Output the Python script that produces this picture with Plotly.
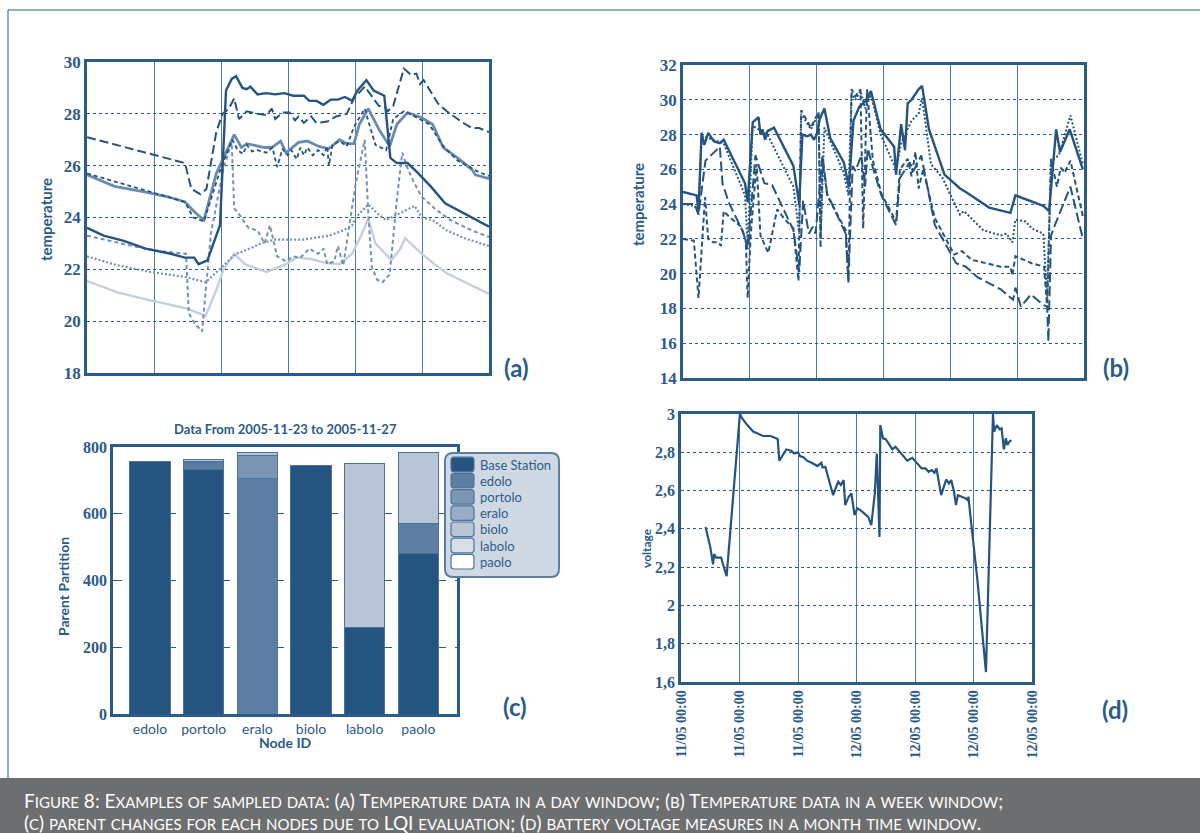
import plotly.graph_objects as go

W, H = 1200, 833
def px(x): return x / W
def py(y): return 1 - y / H

DARK = '#24547f'
AX = '#2b5b89'
MED = '#6a8bb1'
MED2 = '#7492b6'
LIGHT = '#c5d0dd'

# ---------------- (a) temperature, day window (hours) ----------------
a1_h = [0,1.0,2.2,3.5,5.0,5.85,6.4,6.66,7.19,7.94,8.30,8.64,8.90,9.28,9.54,9.75,10.18,10.71,11.24,11.78,12.31,12.95,13.27,13.70,14.12,14.55,14.98,15.40,15.83,16.15,16.68,17.11,17.75,18.11,18.50,19.14,19.78,20.52,21.38,22.12,24.0]
a1_t = [23.6,23.3,23.1,22.8,22.6,22.45,22.45,22.2,22.35,23.7,28.9,29.35,29.45,29.0,28.95,29.05,28.75,28.8,28.75,28.8,28.7,28.7,28.5,28.5,28.35,28.55,28.55,28.65,28.5,28.9,29.3,28.9,28.7,26.3,26.1,26.1,25.7,25.2,24.55,24.3,23.65]

a2_h = [0,5.85,6.23,6.76,7.13,7.72,8.09,8.47,8.79,9.07,9.54,10.18,10.71,11.03,11.24,11.67,12.10,12.42,12.63,12.95,13.38,13.70,14.34,14.87,15.51,15.94,16.58,17.43,17.75,17.96,18.28,18.92,19.35,19.67,19.88,20.10,20.95,21.48,22.34,22.98,23.40,24.0]
a2_t = [27.1,26.1,25.1,24.9,25.1,27.3,28.0,28.2,28.6,27.8,28.1,28.0,27.95,28.2,27.8,28.05,28.05,27.75,27.9,27.65,27.9,27.65,27.7,27.9,28.0,28.6,29.05,28.3,28.3,28.1,28.3,29.75,29.5,29.55,29.15,29.3,28.4,28.1,27.7,27.45,27.45,27.3]

a3_h = [0,2.71,5.85,6.34,6.98,7.30,8.04,8.68,9.00,9.32,9.54,9.86,10.18,10.71,11.07,11.35,11.67,11.99,12.20,12.52,12.74,12.95,13.16,13.48,13.80,14.12,14.34,14.44,14.66,15.08,15.51,15.94,16.58,17.22,17.86,18.28,18.92,19.56,20.42,21.27,22.12,22.98,23.40,24.0]
a3_t = [25.7,25.2,24.6,24.0,23.85,24.5,26.0,27.0,26.6,26.45,26.8,26.55,26.6,26.5,26.7,25.95,26.65,26.4,26.6,26.25,26.7,26.4,26.7,26.4,26.6,26.4,26.75,26.0,26.8,26.95,26.75,27.5,28.2,26.8,26.6,27.8,28.1,27.9,27.6,26.75,26.2,25.9,25.75,25.6]

a4_h = [0,1.64,3.35,4.84,5.85,6.44,6.98,7.72,8.15,8.79,9.22,9.54,10.60,11.03,11.56,11.88,12.63,13.16,13.80,14.44,15.08,15.51,15.94,16.26,16.79,17.43,18.07,18.50,19.14,19.99,20.63,21.27,22.12,22.98,23.19,24.0]
a4_t = [25.65,25.2,25.0,24.8,24.6,24.2,23.9,25.7,26.3,27.2,26.7,26.85,26.7,26.7,26.95,26.5,26.9,26.95,26.75,26.65,27.0,26.85,26.85,27.6,28.2,27.4,26.75,27.6,28.05,27.85,27.6,26.7,26.3,25.85,25.65,25.5]

a5_h = [0,2.71,4.42,5.91,6.08,6.44,6.87,7.40,8.15,8.64,8.79,9.11,9.64,10.18,10.60,10.92,11.35,11.88,12.31,12.74,13.27,13.80,14.12,14.34,14.76,14.98,15.30,15.51,16.04,16.58,16.79,17.00,17.32,17.64,18.07,18.50,18.82,19.14,19.56,19.99,20.84,21.70,22.98,24.0]
a5_t = [23.3,22.9,22.7,22.6,20.3,19.9,19.6,23.4,25.9,26.9,24.35,24.1,23.6,23.5,23.0,23.7,22.5,22.3,22.5,22.45,22.8,22.6,22.8,22.2,22.3,22.9,22.15,23.0,25.3,27.0,24.2,22.1,21.6,21.5,21.8,24.7,26.5,25.9,25.3,24.8,24.3,23.9,23.5,23.25]

a6_h = [0,1.86,3.78,5.91,7.08,8.04,8.90,9.54,10.39,11.24,12.95,14.44,15.30,15.83,16.04,16.79,17.43,17.86,18.50,19.14,19.56,19.99,20.63,21.48,22.55,24.0]
a6_t = [22.5,22.15,21.9,21.7,21.5,22.1,22.6,22.75,23.0,23.15,23.15,23.3,23.5,23.7,24.0,24.5,24.1,23.9,24.1,24.3,24.45,24.0,23.9,23.5,23.2,22.9]

a7_h = [0,1.86,3.78,5.91,7.08,7.72,8.15,8.79,9.43,10.71,11.88,12.52,13.38,14.23,15.08,15.83,16.36,16.79,17.22,17.64,18.18,18.71,18.99,19.99,20.74,21.48,22.55,24.0]
a7_t = [21.55,21.1,20.8,20.5,20.2,21.2,22.0,22.6,22.2,21.9,22.2,22.45,22.4,22.25,22.2,22.6,23.3,23.95,23.0,22.7,22.35,22.8,23.2,22.6,22.2,21.85,21.5,21.05]

# ---------------- (b) temperature, week window (days) ----------------
b1_d = [0,0.203,0.232,0.278,0.319,0.377,0.464,0.551,0.609,0.928,0.968,1.043,1.130,1.159,1.188,1.229,1.264,1.362,1.652,1.739,1.786,1.855,1.913,1.959,2.0,2.046,2.116,2.203,2.406,2.481,2.551,2.638,2.725,2.812,2.957,3.159,3.188,3.264,3.322,3.362,3.420,3.525,3.577,3.681,3.913,4.145,4.232,4.580,4.899,4.974,5.391,5.478,5.583,5.641,5.786,5.983]
b1_t = [24.7,24.5,23.6,28.1,27.4,28.1,27.6,27.5,27.7,25.2,24.1,28.7,29.0,28.0,28.3,27.7,28.2,28.4,26.2,24.0,28.0,27.9,28.0,27.7,28.0,28.9,29.5,27.8,26.4,25.0,28.8,29.6,29.9,30.5,28.3,27.3,25.7,28.6,27.1,29.8,30.0,30.6,30.8,28.3,25.7,24.9,24.7,23.8,23.5,24.5,23.9,23.6,28.3,27.0,28.3,26.0]

b2_d = [0,0.174,0.232,0.336,0.551,0.591,0.684,0.899,0.968,1.084,1.217,1.333,1.652,1.739,1.797,1.884,1.942,1.983,2.087,2.157,2.435,2.475,2.539,2.580,2.667,2.725,2.765,2.841,2.968,3.188,3.246,3.391,3.449,3.565,3.768,4.087,4.232,4.406,4.754,4.939,4.974,5.055,5.206,5.391,5.449,5.467,5.507,5.565,5.797,5.983]
b2_t = [24.0,24.0,23.4,26.5,27.3,25.2,24.1,22.4,21.4,26.8,25.2,25.1,22.5,20.1,24.2,22.3,22.7,22.3,26.8,24.6,22.3,19.6,26.2,25.9,26.8,25.0,27.2,26.1,24.5,22.8,25.5,26.4,25.9,26.8,22.8,20.6,20.4,19.8,19.1,18.5,19.2,18.1,18.8,18.2,18.1,16.1,22.2,22.8,25.0,22.0]

b3_d = [0,0.162,0.232,0.330,0.377,0.452,0.522,0.568,0.609,0.684,0.870,0.939,0.968,1.014,1.101,1.159,1.276,1.409,1.507,1.652,1.728,1.768,1.855,1.913,2.029,2.058,2.087,2.157,2.435,2.475,2.522,2.580,2.655,2.696,2.754,2.841,2.968,3.188,3.246,3.362,3.420,3.478,3.525,3.594,3.768,4.058,4.174,4.319,4.754,4.899,4.928,4.974,5.217,5.403,5.449,5.507,5.594,5.652,5.710,5.797,5.983]
b3_t = [22.0,21.9,18.6,24.4,22.0,21.8,21.8,21.6,23.6,23.3,22.7,21.9,18.6,22.3,26.3,22.2,21.2,23.7,23.2,22.6,19.6,29.4,28.8,28.4,29.3,21.5,26.6,24.5,22.5,19.5,30.6,30.2,30.6,22.6,30.6,26.5,24.6,23.0,26.0,26.6,25.6,27.0,24.9,26.0,23.2,21.1,21.3,20.8,20.4,20.4,19.9,21.0,20.6,20.4,18.0,26.6,25.0,26.1,25.8,26.5,23.3]

b4_d = [0,0.174,0.232,0.278,0.377,0.609,0.928,0.968,1.043,1.264,1.652,1.739,1.768,1.913,2.029,2.058,2.116,2.406,2.475,2.522,2.580,2.655,2.725,2.812,2.957,3.188,3.264,3.420,3.525,3.577,3.710,3.884,4.029,4.145,4.203,4.493,4.754,4.841,4.928,4.974,5.130,5.217,5.391,5.449,5.507,5.623,5.797,5.983]
b4_t = [24.0,23.9,23.5,27.9,27.8,27.5,24.5,21.6,28.5,28.0,25.0,22.3,29.2,28.3,29.2,22.0,28.4,25.8,24.5,30.4,30.0,30.5,29.5,30.3,28.0,26.0,27.5,28.8,29.2,30.1,26.3,25.5,24.3,23.4,23.6,22.5,22.2,22.3,21.8,23.1,23.0,22.6,22.3,18.6,26.5,26.8,29.1,26.3]

# ---------------- (c) parent partition ----------------
nodes = ['edolo', 'portolo', 'eralo', 'biolo', 'labolo', 'paolo']
parents = ['Base Station', 'edolo', 'portolo', 'eralo', 'biolo', 'labolo', 'paolo']
parent_counts = {
    'Base Station': [757, 732, 0, 745, 258, 480],
    'edolo':        [0, 23, 705, 0, 0, 90],
    'portolo':      [0, 0, 70, 0, 0, 0],
    'eralo':        [0, 3, 0, 0, 0, 0],
    'biolo':        [0, 5, 8, 0, 492, 215],
    'labolo':       [0, 0, 0, 0, 0, 0],
    'paolo':        [0, 0, 0, 0, 0, 0],
}
bar_colors = ['#24547f', '#5c7ea3', '#7b95b4', '#98adc7', '#b7c5d6', '#d7dee7', '#ffffff']

# ---------------- (d) battery voltage, month window ----------------
d_t = [0.42,0.50,0.547,0.567,0.60,0.687,0.713,0.78,1.007,1.047,1.133,1.233,1.30,1.40,1.533,1.60,1.653,1.68,1.80,1.887,1.933,2.0,2.033,2.10,2.153,2.233,2.333,2.40,2.42,2.467,2.533,2.60,2.687,2.733,2.78,2.807,2.867,2.913,2.967,3.013,3.067,3.20,3.253,3.313,3.347,3.367,3.393,3.407,3.453,3.50,3.613,3.667,3.867,3.953,4.033,4.113,4.18,4.233,4.287,4.333,4.367,4.447,4.533,4.58,4.62,4.667,4.70,4.733,4.80,4.867,4.90,4.913,4.967,5.067,5.213,5.333,5.353,5.40,5.447,5.48,5.52,5.553,5.58,5.613,5.647]
d_v = [2.41,2.306,2.215,2.268,2.25,2.25,2.219,2.153,3.0,2.977,2.942,2.908,2.899,2.885,2.885,2.876,2.869,2.756,2.815,2.808,2.794,2.80,2.78,2.773,2.756,2.745,2.728,2.745,2.721,2.724,2.646,2.576,2.646,2.629,2.655,2.524,2.568,2.585,2.472,2.507,2.498,2.463,2.419,2.585,2.794,2.603,2.358,2.942,2.873,2.868,2.815,2.829,2.756,2.771,2.742,2.716,2.716,2.698,2.707,2.693,2.716,2.576,2.658,2.637,2.655,2.594,2.524,2.576,2.568,2.559,2.55,2.568,2.411,2.132,1.652,3.0,2.908,2.942,2.92,2.925,2.815,2.873,2.838,2.855,2.864]
d_tickvals = [0, 1, 2, 3, 4, 5, 6]
d_ticktext = ['11/05 00:00', '11/05 00:00', '11/05 00:00', '12/05 00:00', '12/05 00:00', '12/05 00:00', '12/05 00:00']
d_yvals = [1.6, 1.8, 2.0, 2.2, 2.4, 2.6, 2.8, 3.0]
d_ytext = ['1,6', '1,8', '2', '2,2', '2,4', '2,6', '2,8', '3']

fig = go.Figure()

def line(x, y, color, width, dash, xa, ya):
    fig.add_trace(go.Scatter(x=x, y=y, mode='lines', xaxis=xa, yaxis=ya,
                             line=dict(color=color, width=width, dash=dash),
                             showlegend=False, hoverinfo='skip'))

# (a)
line(a7_h, a7_t, LIGHT, 2.4, 'solid', 'x', 'y')
line(a6_h, a6_t, MED2, 2.2, '2px,2px', 'x', 'y')
line(a5_h, a5_t, MED2, 2.0, '4px,3px', 'x', 'y')
line(a4_h, a4_t, MED, 2.8, 'solid', 'x', 'y')
line(a3_h, a3_t, DARK, 1.8, '4px,3px', 'x', 'y')
line(a2_h, a2_t, DARK, 2.0, '9px,4px', 'x', 'y')
line(a1_h, a1_t, DARK, 2.4, 'solid', 'x', 'y')

# (b)
line(b4_d, b4_t, DARK, 2.0, '2px,2px', 'x2', 'y2')
line(b3_d, b3_t, DARK, 2.0, '5px,3px', 'x2', 'y2')
line(b2_d, b2_t, DARK, 2.0, '10px,4px', 'x2', 'y2')
line(b1_d, b1_t, DARK, 2.4, 'solid', 'x2', 'y2')

# (c)
for name, col in zip(parents, bar_colors):
    fig.add_trace(go.Bar(x=nodes, y=parent_counts[name], name=name, xaxis='x3', yaxis='y3',
                         marker=dict(color=col, line=dict(color='#4d739b', width=1)),
                         showlegend=False, hoverinfo='skip'))

# (d)
line(d_t, d_v, DARK, 2.2, 'solid', 'x4', 'y4')

SERIF = 'Liberation Serif, DejaVu Serif, serif'
def tfont(size):
    return dict(family=SERIF, size=size, color=AX, weight='bold')

common_ax = dict(showline=True, mirror=True, linecolor=AX, linewidth=2.5, zeroline=False,
                 ticks='', fixedrange=True, automargin=False)
xgrid = dict(showgrid=True, gridcolor='#4f78a2', gridwidth=1)
ygrid = dict(showgrid=True, gridcolor=AX, gridwidth=1, griddash='dot')

fig.update_layout(
    width=W, height=H, margin=dict(l=0, r=0, t=0, b=0, pad=0, autoexpand=False),
    paper_bgcolor='white', plot_bgcolor='white', barmode='stack', bargap=0.25,
    showlegend=False,
    font=dict(family='Lato, Open Sans, sans-serif', color=AX),
    xaxis=dict(domain=[px(87), px(489)], anchor='y', range=[0, 24], dtick=4,
               showticklabels=False, **xgrid, **common_ax),
    yaxis=dict(domain=[py(373), py(62)], anchor='x', range=[18, 30], dtick=2,
               tickfont=tfont(17), **ygrid, **common_ax),
    xaxis2=dict(domain=[px(683), px(1084)], anchor='y2', range=[0, 6], dtick=1,
                showticklabels=False, **xgrid, **common_ax),
    yaxis2=dict(domain=[py(378), py(65)], anchor='x2', range=[14, 32], dtick=2,
                tickfont=tfont(17), **ygrid, **common_ax),
    xaxis3=dict(domain=[px(113), px(457)], anchor='y3', range=[-0.69, 5.72], showgrid=False,
                tickfont=dict(family='Lato, sans-serif', size=14, color=AX), **common_ax),
    yaxis3=dict(domain=[py(714), py(447)], anchor='x3', range=[0, 800], dtick=200,
                showgrid=True, gridcolor=AX, gridwidth=1, griddash='dash',
                tickfont=tfont(16), **common_ax),
    xaxis4=dict(domain=[px(681), px(1032)], anchor='y4', range=[0, 6], tickvals=d_tickvals,
                ticktext=d_ticktext, tickangle=-90, tickfont=tfont(14),
                **xgrid, **common_ax),
    yaxis4=dict(domain=[py(682), py(414)], anchor='x4', range=[1.6, 3.0], tickvals=d_yvals,
                ticktext=d_ytext, tickfont=tfont(16), **ygrid, **common_ax),
)

def ann(text, x, y, size, angle=0, bold=True, family='Lato, sans-serif', color=AX, xanchor='center'):
    fig.add_annotation(text=('<b>%s</b>' % text) if bold else text, x=px(x), y=py(y),
                       xref='paper', yref='paper', showarrow=False, textangle=angle,
                       xanchor=xanchor, yanchor='middle',
                       font=dict(family=family, size=size, color=color))

ann('temperature', 46, 220, 15, -90)
ann('temperature', 638, 205, 15, -90)
ann('Parent Partition', 63, 587, 14, -90)
ann('voltage', 646, 548, 12, -90)
ann('Data From 2005-11-23 to 2005-11-27', 285, 429, 13)
ann('Node ID', 285, 742, 14)
ann('(a)', 516, 367, 24)
ann('(b)', 1116, 367, 24)
ann('(c)', 515, 706, 24)
ann('(d)', 1115, 709, 24)

# rounded-rectangle helper (pixel coords -> paper path)
def rrect_path(x0, y0, x1, y1, r):
    P = lambda x, y: '%.5f,%.5f' % (px(x), py(y))
    return ('M%s L%s Q%s %s L%s Q%s %s L%s Q%s %s L%s Q%s %s Z' % (
        P(x0 + r, y0), P(x1 - r, y0), P(x1, y0), P(x1, y0 + r), P(x1, y1 - r),
        P(x1, y1), P(x1 - r, y1), P(x0 + r, y1), P(x0, y1), P(x0, y1 - r),
        P(x0, y0 + r), P(x0, y0), P(x0 + r, y0)))

# legend for (c), built from the parent list
fig.add_shape(type='path', xref='paper', yref='paper', path=rrect_path(445, 453, 559, 577, 8),
              fillcolor='#d0d9e3', line=dict(color='#5a7fa5', width=2))
for i, (name, col) in enumerate(zip(parents, bar_colors)):
    yc = 464.5 + i * 16.2
    fig.add_shape(type='path', xref='paper', yref='paper',
                  path=rrect_path(451, yc - 7.3, 474, yc + 7.3, 3),
                  fillcolor=col, line=dict(color='#4d739b', width=1.2))
    fig.add_annotation(text=name, x=px(478), y=py(yc), xref='paper', yref='paper',
                       showarrow=False, xanchor='left', yanchor='middle',
                       font=dict(family='Lato, sans-serif', size=13, color=AX))

# frame and caption band
fig.add_shape(type='line', xref='paper', yref='paper', x0=px(8), x1=1, y0=py(10), y1=py(10),
              line=dict(color=AX, width=1))
fig.add_shape(type='line', xref='paper', yref='paper', x0=px(8), x1=px(8), y0=py(10), y1=py(778),
              line=dict(color=AX, width=1))
fig.add_shape(type='rect', xref='paper', yref='paper', x0=0, x1=1, y0=0, y1=py(778),
              fillcolor='#6d6e70', line=dict(width=0), layer='below')

def small_caps(s, small=14):
    out, buf, mode = [], '', None
    def flush():
        if buf:
            out.append(buf if mode == 'big' else '<span style="font-size:%dpx">%s</span>' % (small, buf))
    for ch in s:
        m = 'small' if ch.islower() else 'big'
        if m != mode:
            flush(); buf = ''; mode = m
        buf += ch.upper()
    flush()
    return ''.join(out)

caption1 = 'Figure 8: Examples of sampled data: (a) Temperature data in a day window; (b) Temperature data in a week window;'
caption2 = '(c) parent changes for each nodes due to LQI evaluation; (d) battery voltage measures in a month time window.'
for txt, yy in [(caption1, 800), (caption2, 822)]:
    fig.add_annotation(text=small_caps(txt, 15), x=px(22), y=py(yy), xref='paper', yref='paper',
                       showarrow=False, xanchor='left', yanchor='middle',
                       font=dict(family='Lato, sans-serif', size=19, color='white'))

fig.write_html('out.html', config={'displayModeBar': False},
               post_script="document.body.style.margin='0px';document.body.style.overflow='hidden';")
